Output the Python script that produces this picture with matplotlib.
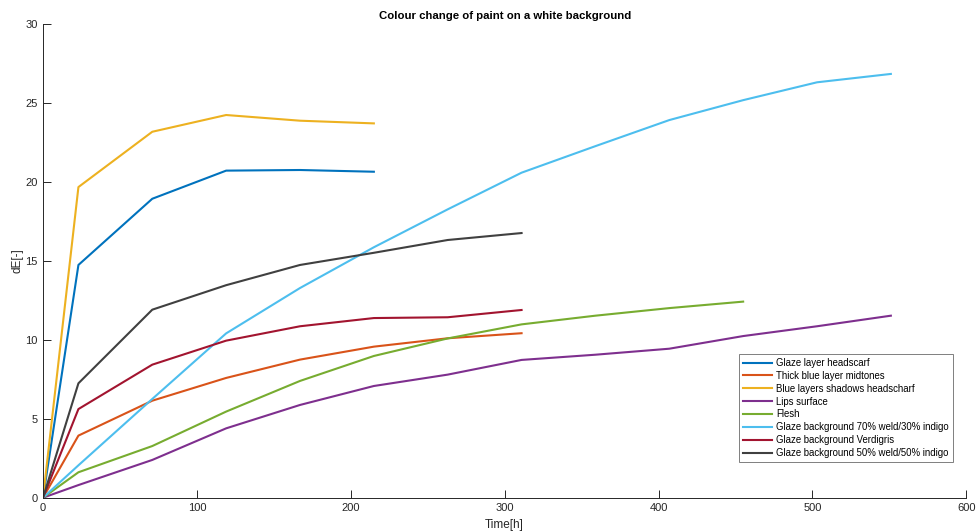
import matplotlib.pyplot as plt

plt.rcParams['font.family'] = ['Liberation Sans', 'DejaVu Sans']

# measurement times [h]
t = [0, 23, 71, 119, 167, 215, 263, 311, 359, 407, 455, 503, 551]

# dE per sample
glaze_headscarf = [0, 14.73, 18.92, 20.70, 20.74, 20.63]
thick_blue = [0, 3.93, 6.14, 7.58, 8.74, 9.56, 10.09, 10.41]
blue_shadows = [0, 19.66, 23.16, 24.22, 23.86, 23.69]
lips = [0, 0.80, 2.39, 4.39, 5.87, 7.07, 7.79, 8.72, 9.05, 9.43, 10.23, 10.85, 11.52]
flesh = [0, 1.61, 3.27, 5.45, 7.39, 8.97, 10.08, 10.97, 11.52, 12.00, 12.41]
glaze_70_30 = [0, 2.05, 6.25, 10.40, 13.27, 15.85, 18.25, 20.57, 22.25, 23.90, 25.16, 26.29, 26.82]
verdigris = [0, 5.61, 8.42, 9.94, 10.85, 11.37, 11.42, 11.88]
glaze_50_50 = [0, 7.24, 11.90, 13.45, 14.73, 15.50, 16.31, 16.75]

labels = ['Glaze layer headscarf', 'Thick blue layer midtones',
          'Blue layers shadows headscharf', 'Lips surface', 'Flesh',
          'Glaze background 70% weld/30% indigo', 'Glaze background Verdigris',
          'Glaze background 50% weld/50% indigo']
series = [glaze_headscarf, thick_blue, blue_shadows, lips, flesh,
          glaze_70_30, verdigris, glaze_50_50]
colors = ['#0072BD', '#D95319', '#EDB120', '#7E2F8E', '#77AC30',
          '#4DBEEE', '#A2142F', '#404040']

fig = plt.figure(figsize=(9.78, 5.31), dpi=100)
ax = fig.add_axes([0.044, 0.0627, 0.944, 0.8927])

for y, lab, c in zip(series, labels, colors):
    ax.plot(t[:len(y)], y, color=c, lw=1.5, label=lab)

ax.set_xlim(0, 600)
ax.set_ylim(0, 30)
ax.set_xticks(range(0, 601, 100))
ax.set_yticks(range(0, 31, 5))
ax.spines['top'].set_visible(False)
ax.spines['right'].set_visible(False)
for s in ['left', 'bottom']:
    ax.spines[s].set_color('#262626')
    ax.spines[s].set_linewidth(0.7)
ax.tick_params(direction='in', length=6, width=0.7, colors='#262626',
               labelsize=8, pad=4)

ax.set_title('Colour change of paint on a white background', fontsize=8.2,
             fontweight='bold', pad=3.5)
ax.set_xlabel('Time[h]', fontsize=8.5, color='#262626', labelpad=4)
ax.set_ylabel('dE[-]', fontsize=8.5, color='#262626', labelpad=1)

leg = ax.legend(loc='lower right', bbox_to_anchor=(0.9855, 0.0745),
                fontsize=6.9, fancybox=False, framealpha=1, edgecolor='#7f7f7f',
                handlelength=3.0, handletextpad=0.45, labelspacing=0.3,
                borderpad=0.45, borderaxespad=0)
leg.get_frame().set_linewidth(0.7)

fig.savefig('out.png', dpi=100)
